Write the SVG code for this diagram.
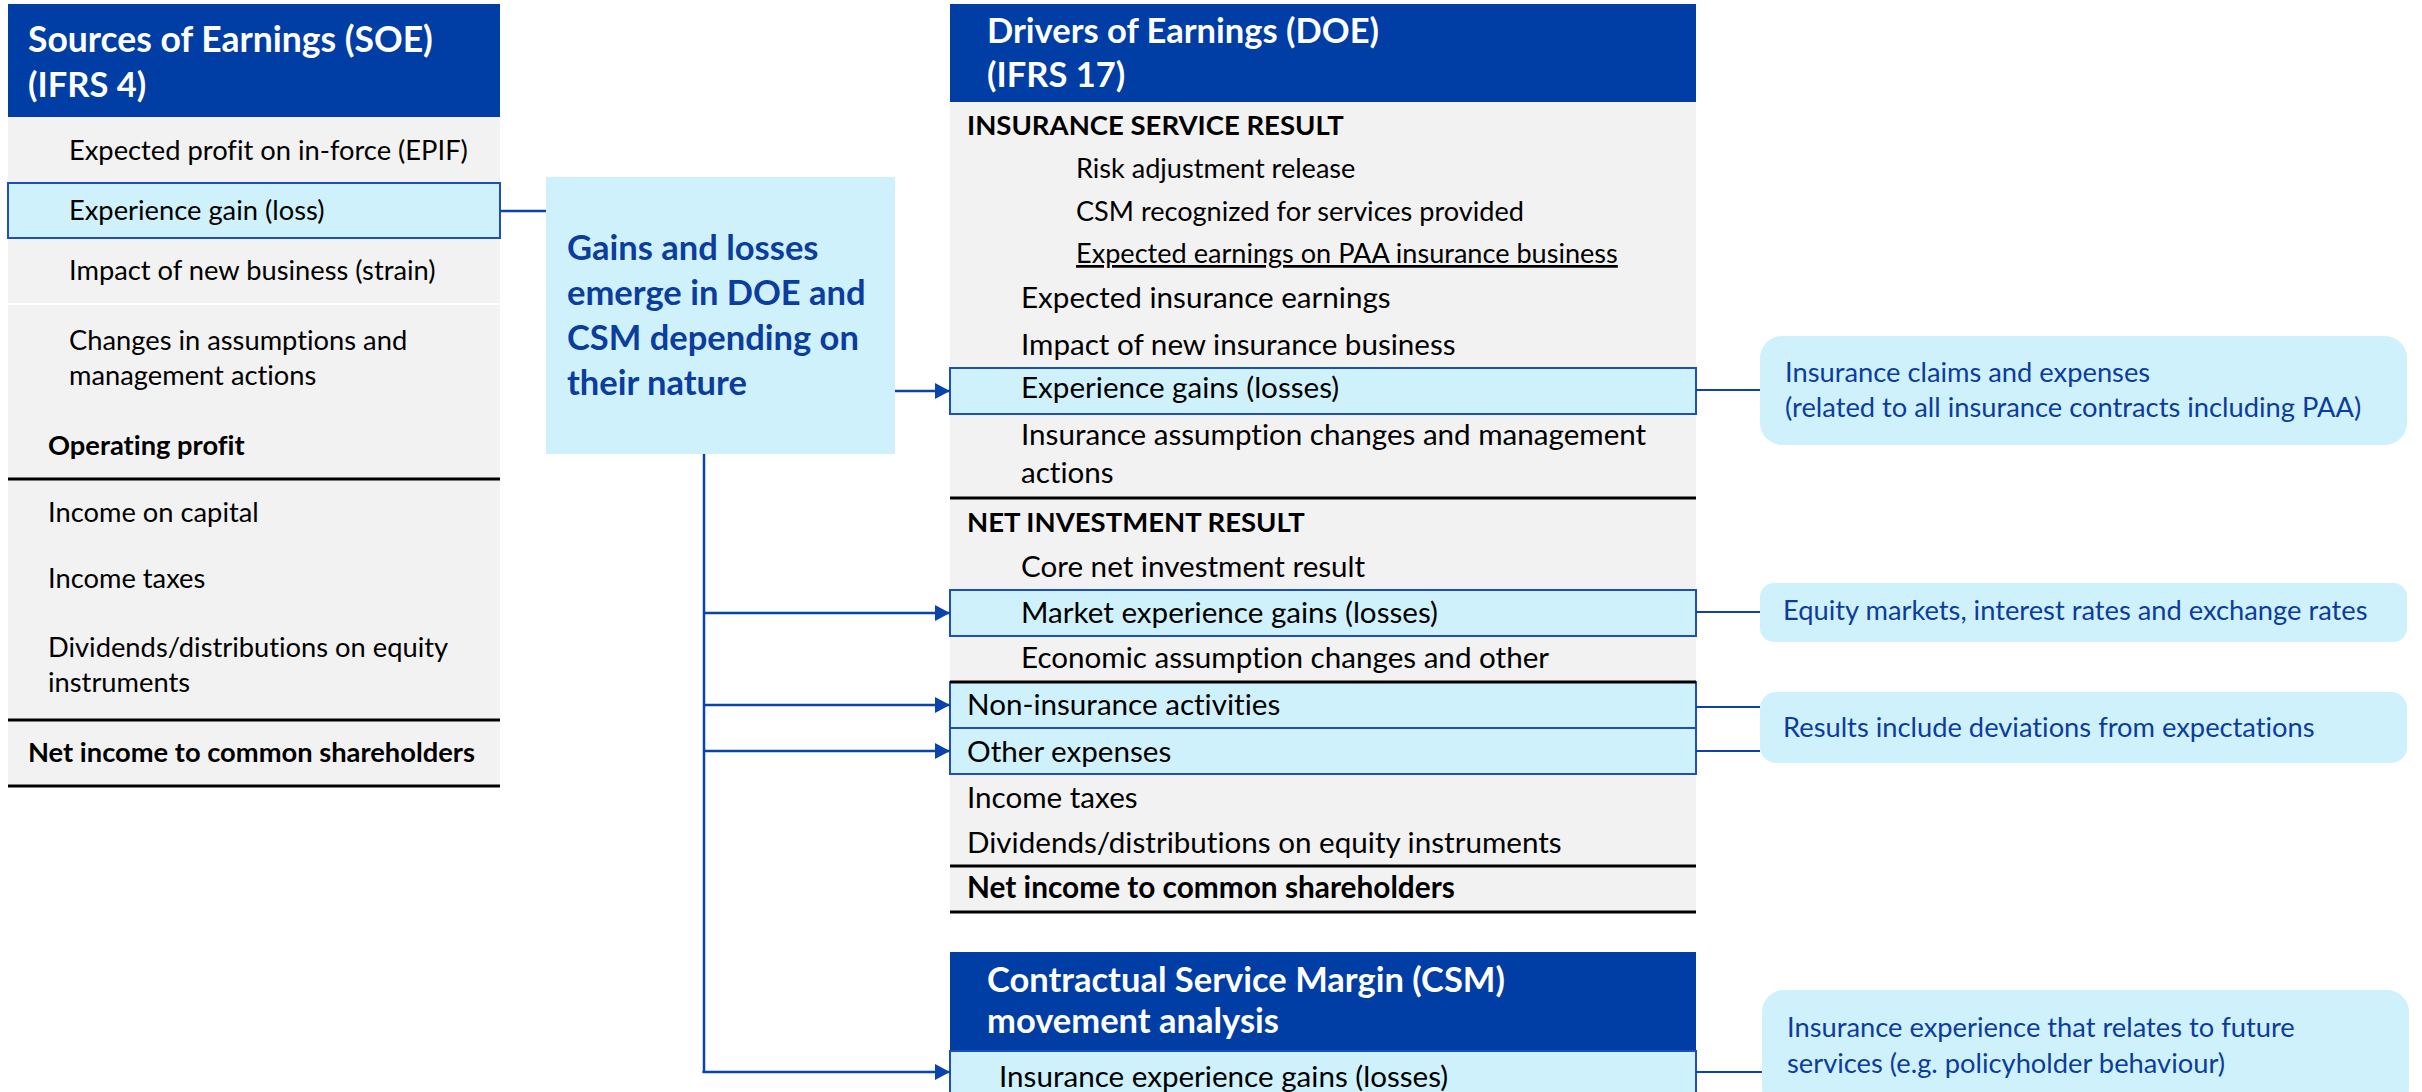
<svg xmlns="http://www.w3.org/2000/svg" width="2422" height="1092" viewBox="0 0 2422 1092">
<defs>
<style>
text{font-variant-ligatures:none;font-feature-settings:"liga" 0,"clig" 0,"dlig" 0}
.h{font-family:Lato,"Liberation Sans",sans-serif;font-weight:700;font-size:34.5px;fill:#ffffff}
.t{font-family:Lato,"Liberation Sans",sans-serif;font-size:27.3px;fill:#000000}
.d{font-size:29.6px}
.s{font-size:27.1px}
.k{font-size:27.5px}
.b{font-weight:700}
.g{font-family:Lato,"Liberation Sans",sans-serif;font-weight:700;font-size:34.5px;fill:#0b3d9e}
.c{font-family:Lato,"Liberation Sans",sans-serif;font-size:27.3px;fill:#0d3d9c}
.hdr{fill:#003da5}
.bg{fill:#f2f2f2}
.hl{fill:#cff1fc;stroke:#1d4fb8;stroke-width:2}
.rule{stroke:#000000;stroke-width:3}
.conn{stroke:#0b43ad;stroke-width:2.5;fill:none}
.conn2{stroke:#0b43ad;stroke-width:2;fill:none}
.call{fill:#cff1fc}
</style>
<marker id="arr" markerUnits="userSpaceOnUse" markerWidth="15" markerHeight="16" refX="15" refY="8" orient="auto">
<path d="M0,0 L15,8 L0,16 Z" fill="#0b43ad"/>
</marker>
</defs>

<g id="soe">
<rect class="bg" x="8" y="117" width="492" height="669"/>
<rect class="hdr" x="8" y="4" width="492" height="113"/>
<text class="h" x="28" y="52" style="font-size:35.5px">Sources of Earnings (SOE)</text>
<text class="h" x="28" y="97">(IFRS 4)</text>
<text class="t" x="69" y="160">Expected profit on in-force (EPIF)</text>
<rect class="hl" x="8" y="183" width="492" height="55"/>
<text class="t" x="69" y="220">Experience gain (loss)</text>
<text class="t" x="69" y="280">Impact of new business (strain)</text>
<line x1="8" y1="304" x2="500" y2="304" stroke="#ffffff" stroke-width="2"/>
<text class="t" x="69" y="350">Changes in assumptions and</text>
<text class="t" x="69" y="385">management actions</text>
<text class="t b" x="48" y="455">Operating profit</text>
<line class="rule" x1="8" y1="479" x2="500" y2="479"/>
<text class="t" x="48" y="522">Income on capital</text>
<text class="t" x="48" y="588">Income taxes</text>
<text class="t" x="48" y="657">Dividends/distributions on equity</text>
<text class="t" x="48" y="692">instruments</text>
<line class="rule" x1="8" y1="720" x2="500" y2="720"/>
<text class="t b" x="28" y="762">Net income to common shareholders</text>
<line class="rule" x1="8" y1="786" x2="500" y2="786" stroke-width="2.5"/>
</g>

<g id="gains">
<rect class="call" x="546" y="177" width="349" height="277"/>
<text class="g" x="567" y="260">Gains and losses</text>
<text class="g" x="567" y="305">emerge in DOE and</text>
<text class="g" x="567" y="350">CSM depending on</text>
<text class="g" x="567" y="395">their nature</text>
</g>

<g id="doe">
<rect class="bg" x="950" y="102" width="746" height="810"/>
<rect class="hdr" x="950" y="4" width="746" height="98"/>
<text class="h" x="987" y="43">Drivers of Earnings (DOE)</text>
<text class="h" x="987" y="87">(IFRS 17)</text>
<text class="t k b" x="967" y="135">INSURANCE SERVICE RESULT</text>
<text class="t s" x="1076" y="178">Risk adjustment release</text>
<text class="t s" x="1076" y="221">CSM recognized for services provided</text>
<text class="t s" x="1076" y="263" text-decoration="underline">Expected earnings on PAA insurance business</text>
<text class="t d" x="1021" y="308">Expected insurance earnings</text>
<text class="t d" x="1021" y="355">Impact of new insurance business</text>
<rect class="hl" x="950" y="368" width="746" height="46"/>
<text class="t d" x="1021" y="398">Experience gains (losses)</text>
<text class="t d" x="1021" y="445">Insurance assumption changes and management</text>
<text class="t d" x="1021" y="483">actions</text>
<line class="rule" x1="950" y1="498" x2="1696" y2="498"/>
<text class="t k b" x="967" y="532">NET INVESTMENT RESULT</text>
<text class="t d" x="1021" y="577">Core net investment result</text>
<rect class="hl" x="950" y="590" width="746" height="46"/>
<text class="t d" x="1021" y="623">Market experience gains (losses)</text>
<text class="t d" x="1021" y="668">Economic assumption changes and other</text>
<rect class="hl" x="950" y="682" width="746" height="46"/>
<text class="t d" x="967" y="715">Non-insurance activities</text>
<rect class="hl" x="950" y="728" width="746" height="46"/>
<text class="t d" x="967" y="762">Other expenses</text>
<line class="rule" x1="950" y1="682" x2="1696" y2="682"/>
<text class="t d" x="967" y="808">Income taxes</text>
<text class="t d" x="967" y="853">Dividends/distributions on equity instruments</text>
<line class="rule" x1="950" y1="866" x2="1696" y2="866" stroke-width="2.5"/>
<text class="t d b" x="967" y="898" style="font-size:29.8px">Net income to common shareholders</text>
<line class="rule" x1="950" y1="912" x2="1696" y2="912" stroke-width="2.5"/>
</g>

<g id="csm">
<rect class="hdr" x="950" y="952" width="746" height="99"/>
<text class="h" x="987" y="992">Contractual Service Margin (CSM)</text>
<text class="h" x="987" y="1033">movement analysis</text>
<rect class="hl" x="950" y="1051" width="746" height="50"/>
<text class="t d" x="999" y="1087">Insurance experience gains (losses)</text>
</g>

<g id="callout-claims">
<rect class="call" x="1760" y="336" width="647" height="109" rx="22"/>
<text class="c" x="1785" y="382">Insurance claims and expenses</text>
<text class="c" x="1785" y="417">(related to all insurance contracts including PAA)</text>
</g>
<g id="callout-markets">
<rect class="call" x="1760" y="583" width="647" height="59" rx="14"/>
<text class="c" x="1783" y="620">Equity markets, interest rates and exchange rates</text>
</g>
<g id="callout-results">
<rect class="call" x="1760" y="692" width="647" height="71" rx="16"/>
<text class="c" x="1783" y="737">Results include deviations from expectations</text>
</g>
<g id="callout-future">
<rect class="call" x="1762" y="990" width="647" height="120" rx="22"/>
<text class="c" x="1787" y="1037">Insurance experience that relates to future</text>
<text class="c" x="1787" y="1073">services (e.g. policyholder behaviour)</text>
</g>

<g id="connectors">
<line class="conn" x1="500" y1="211" x2="546" y2="211" stroke-width="3"/>
<line class="conn" x1="895" y1="391" x2="950" y2="391" marker-end="url(#arr)"/>
<line class="conn" x1="704" y1="454" x2="704" y2="1073" stroke-width="3"/>
<line class="conn" x1="704" y1="613" x2="950" y2="613" marker-end="url(#arr)"/>
<line class="conn" x1="704" y1="705" x2="950" y2="705" marker-end="url(#arr)"/>
<line class="conn" x1="704" y1="751" x2="950" y2="751" marker-end="url(#arr)"/>
<line class="conn" x1="702.5" y1="1072" x2="950" y2="1072" marker-end="url(#arr)"/>
<line class="conn2" x1="1696" y1="390" x2="1760" y2="390"/>
<line class="conn2" x1="1696" y1="612" x2="1760" y2="612"/>
<line class="conn2" x1="1696" y1="707" x2="1760" y2="707"/>
<line class="conn2" x1="1696" y1="751" x2="1760" y2="751"/>
<line class="conn2" x1="1696" y1="1072" x2="1762" y2="1072"/>
</g>
</svg>
